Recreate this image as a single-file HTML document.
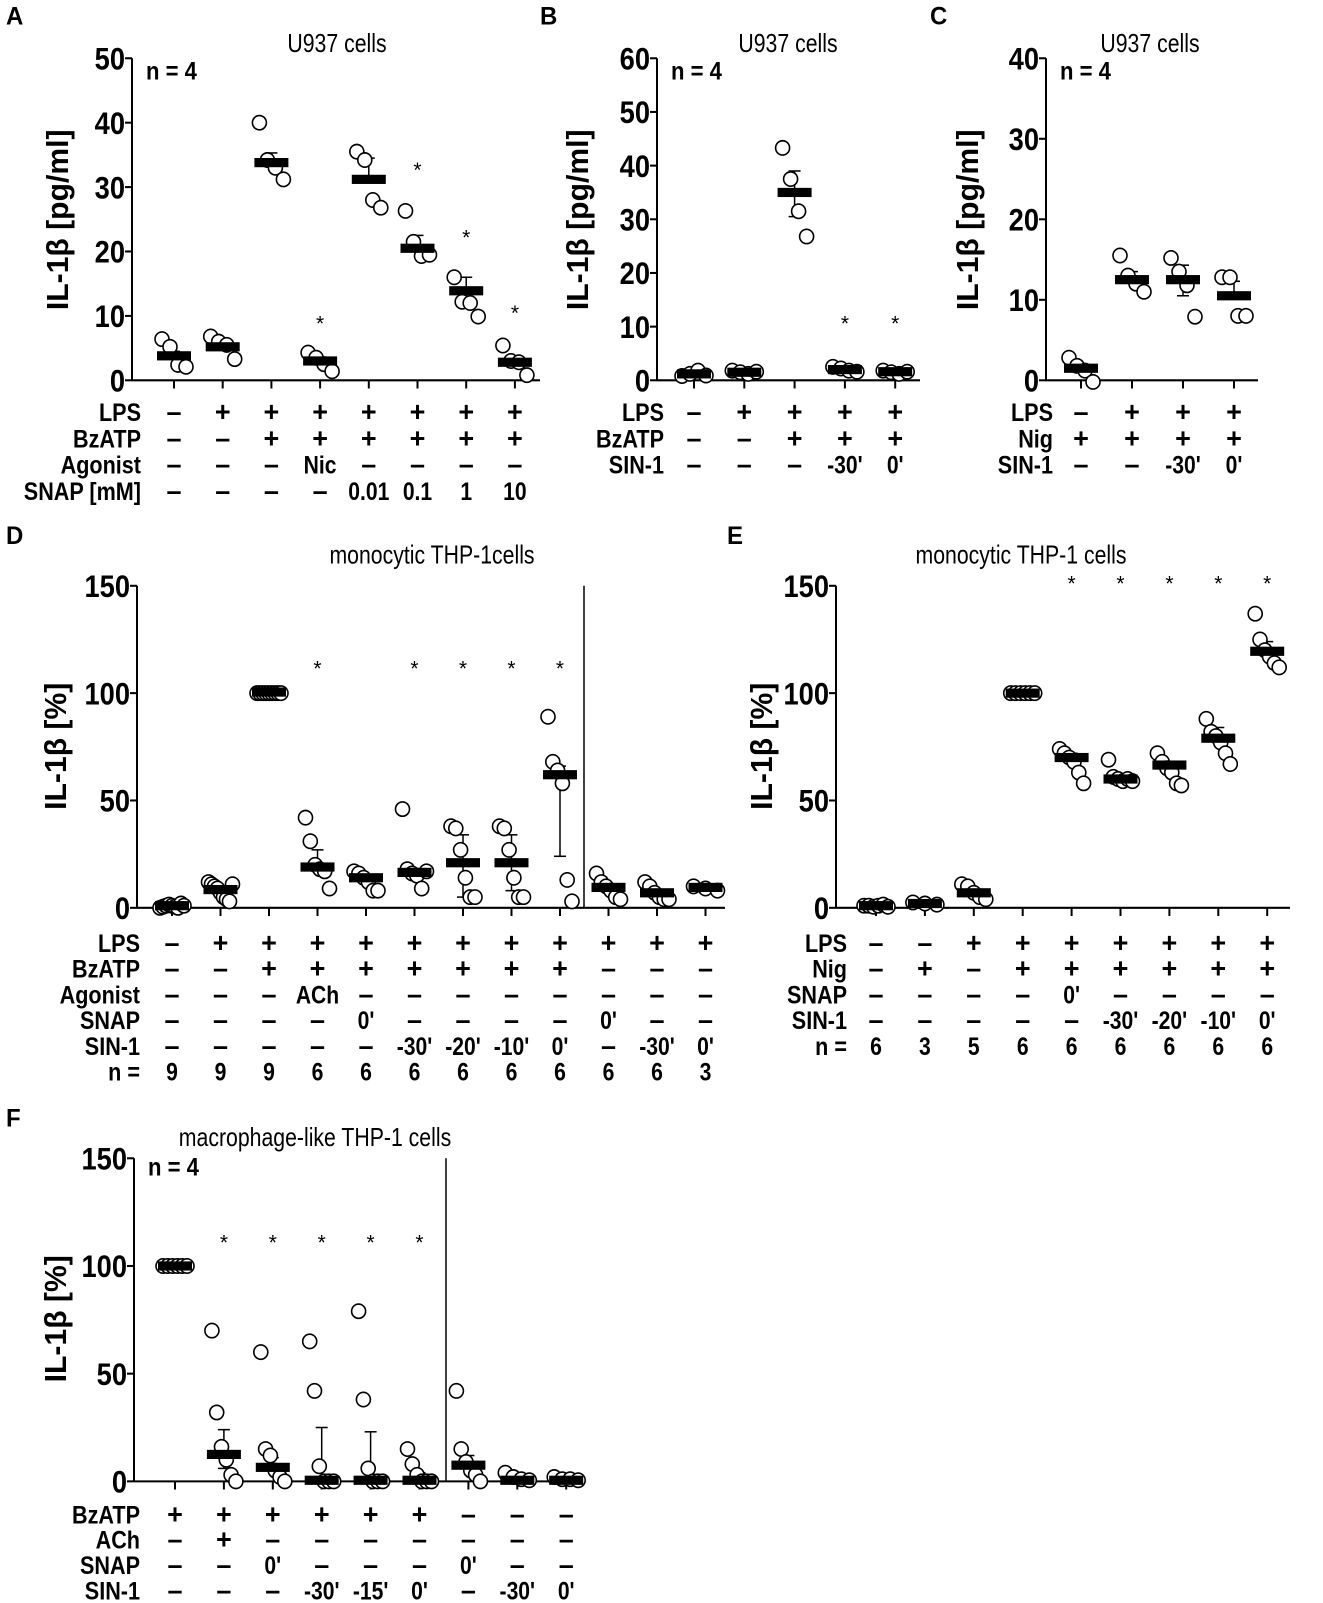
<!DOCTYPE html>
<html><head><meta charset="utf-8"><style>
html,body{margin:0;padding:0;background:#fff;}
svg{display:block;}
text{font-family:"Liberation Sans",Arial,sans-serif;fill:#000;}
</style></head><body>
<svg id="fig" xmlns="http://www.w3.org/2000/svg" width="1323" height="1603" viewBox="0 0 1323 1568" preserveAspectRatio="none"></svg>
<script>
// ---------- DATA ----------
// Panel A
const aMeans=[3.8,5.2,33.8,3.0,31.2,20.5,13.9,2.8];
const aErrHi=[4.5,6.0,35.3,3.6,34.5,22.5,16.0,3.3];
const aErrLo=[3.8,5.2,33.8,3.0,31.2,20.5,13.9,2.8];
const aPoints=[[6.4,5.2,2.4,2.1],[6.8,6.0,5.5,3.3],[40,34.2,33,31.2],[4.3,3.5,2.5,1.4],[35.5,34.2,28,26.8],[26.3,21.5,19.3,19.5],[16,12.2,12,9.9],[5.4,3.0,2.8,0.8]];
const aStars=[null,null,null,9.2,null,33,22.5,10.8];
const aTicks=[0,10,20,30,40,50];
const aRowLabels=["LPS","BzATP","Agonist","SNAP [mM]"];
const aRows=[["–","+","+","+","+","+","+","+"],["–","–","+","+","+","+","+","+"],["–","–","–","Nic","–","–","–","–"],["–","–","–","–","0.01","0.1","1","10"]];
// Panel B
const bMeans=[1.2,1.5,35,2.0,1.6];
const bErrHi=[1.5,1.8,39,2.3,1.9];
const bErrLo=[1.2,1.5,30.5,2.0,1.6];
const bPoints=[[0.8,1.2,1.8,0.9],[1.8,1.5,1.2,1.6],[43.3,37.5,31.5,26.8],[2.5,2.2,1.8,1.6],[1.8,1.5,1.2,1.6]];
const bStars=[null,null,null,11,11];
const bTicks=[0,10,20,30,40,50,60];
const bRowLabels=["LPS","BzATP","SIN-1"];
const bRows=[["–","+","+","+","+"],["–","–","+","+","+"],["–","–","–","-30'","0'"]];
// Panel C
const cMeans=[1.5,12.5,12.5,10.5];
const cErrHi=[2.0,13.5,14.3,12.3];
const cErrLo=[1.5,12.5,10.5,10.5];
const cPoints=[[2.8,1.8,1.2,-0.2],[15.5,13.0,12.0,11.0],[15.2,13.5,11.8,7.9],[12.8,12.8,8.0,8.0]];
const cStars=[null,null,null,null];
const cTicks=[0,10,20,30,40];
const cRowLabels=["LPS","Nig","SIN-1"];
const cRows=[["–","+","+","+"],["+","+","+","+"],["–","–","-30'","0'"]];
// Panel D
const dMeans=[1,8.5,100.5,19,14,16.5,21,21,62,9.5,7,9.5];
const dErrHi=[1.5,10,101,27,15,17,34,34,66,11,8,10];
const dErrLo=[1,8.5,100.5,19,11,16.5,5,8,24,9.5,7,9.5];
const dPoints=[[0,0.5,1,1.5,1,0.5,0,2,1],[12,11,10,9,7,5,4,3,11],[100,100,100,100,100,100,100,100,100],[42,31,20,18,17,9],[17,16,14,12,8,8],[46,18,16,15,9,17],[38,37,27,14,5,5],[38,37,27,14,5,5],[89,68,64,58,13,3],[16,12,10,8,5,4],[12,10,7,5,4,4],[10,9,8]];
const dStars=[null,null,null,112.5,null,112.5,112.5,112.5,112.5,null,null,null];
const dTicks=[0,50,100,150];
const dRowLabels=["LPS","BzATP","Agonist","SNAP","SIN-1","n ="];
const dRows=[["–","+","+","+","+","+","+","+","+","+","+","+"],["–","–","+","+","+","+","+","+","+","–","–","–"],["–","–","–","ACh","–","–","–","–","–","–","–","–"],["–","–","–","–","0'","–","–","–","–","0'","–","–"],["–","–","–","–","–","-30'","-20'","-10'","0'","–","-30'","0'"],["9","9","9","6","6","6","6","6","6","6","6","3"]];
// Panel E
const eMeans=[1,2,7,100,70,60,66.5,79,119.5];
const eErrHi=[1.3,2.5,8,100.5,72,61,68,84,124];
const eErrLo=[1,2,7,100,70,60,66.5,79,119.5];
const ePoints=[[1,1,0.5,1,1.5,0.5],[2.5,2,1.5],[11,10,7,5,4],[100,100,100,100,100,100],[74,72,70,68,63,58],[69,61,60,59,60,59],[72,68,65,63,58,57],[88,82,80,77,72,67],[137,125,120,117,114,112]];
const eStars=[null,null,null,null,152,152,152,152,152];
const eTicks=[0,50,100,150];
const eRowLabels=["LPS","Nig","SNAP","SIN-1","n ="];
const eRows=[["–","–","+","+","+","+","+","+","+"],["–","+","–","+","+","+","+","+","+"],["–","–","–","–","0'","–","–","–","–"],["–","–","–","–","–","-30'","-20'","-10'","0'"],["6","3","5","6","6","6","6","6","6"]];
// Panel F
const fMeans=[100,12.5,6.5,0.5,0.5,0.5,7.5,0.5,0.5];
const fErrHi=[100.5,24,11,25,23,4,12,1,1];
const fErrLo=[100,6,6.5,0.5,0.5,0.5,7.5,0.5,0.5];
const fPoints=[[100,100,100,100,100,100],[70,32,16,10,3,0],[60,15,12,5,2,0],[65,42,7,0,0,0],[79,38,6,0,0,0],[15,8,3,0,0,0],[42,15,9,5,3,0],[4,2,1,0.5],[2,1,1,0.5]];
const fStars=[null,112,112,112,112,112,null,null,null];
const fTicks=[0,50,100,150];
const fRowLabels=["BzATP","ACh","SNAP","SIN-1"];
const fRows=[["+","+","+","+","+","+","–","–","–"],["–","+","–","–","–","–","–","–","–"],["–","–","0'","–","–","–","0'","–","–"],["–","–","–","-30'","-15'","0'","–","-30'","0'"]];

// ---------- DRAWING ----------
const NS="http://www.w3.org/2000/svg";
const svg=document.getElementById('fig');
function el(tag,attrs,parent){const e=document.createElementNS(NS,tag);for(const k in attrs)e.setAttribute(k,attrs[k]);(parent||svg).appendChild(e);return e;}
function txt(parent,x,y,s,size,weight,anchor,sx){
  const t=el('text',{transform:`translate(${x},${y}) scale(${sx||0.82},1)`,'font-size':size,'font-weight':weight||'normal','text-anchor':anchor||'middle'},parent);
  t.textContent=s;return t;
}
function panel(cfg){
  const g=el('g',{});
  
  
  const ymax=cfg.ticks[cfg.ticks.length-1];
  const Y=v=>cfg.y0-(v/ymax)*(cfg.y0-cfg.yTop);
  const X=i=>cfg.xs0+i*cfg.dx;
  const L=txt(g,cfg.letter[0],cfg.letter[1],cfg.letter[2],24,'bold','start',1);
  
  
  const T=txt(g,cfg.titleX,cfg.titleY,cfg.title,25,'normal','middle',0.85);
  
  
  const ya=el('line',{x1:cfg.ax,y1:cfg.yTop,x2:cfg.ax,y2:cfg.y0,stroke:'#000','stroke-width':2},g);
  
  
  const xa=el('line',{x1:cfg.ax,y1:cfg.y0,x2:cfg.xEnd,y2:cfg.y0,stroke:'#000','stroke-width':2},g);
  
  
  cfg.ticks.forEach(t=>{
    el('line',{x1:cfg.ax-7,y1:Y(t),x2:cfg.ax,y2:Y(t),stroke:'#000','stroke-width':2},g);
    const tl=txt(g,cfg.ax-7,Y(t)+11,String(t),31,'bold','end',0.88);
    
    
  });
  const yt=el('text',{transform:`translate(${cfg.ytX},${cfg.ytY}) rotate(-90) scale(0.95,1)`,'font-size':31,'font-weight':'bold','text-anchor':'middle'},g);
  yt.textContent=cfg.ytitle;
  
  
  if(cfg.n){const nt=txt(g,cfg.n[0],cfg.n[1],'n = 4',24,'bold','start',0.92);
    
    }
  if(cfg.div!=null){const dv=el('line',{x1:cfg.div,y1:cfg.yTop,x2:cfg.div,y2:cfg.y0,stroke:'#000','stroke-width':1.5},g);
    
    }
  cfg.means.forEach((m,i)=>{
    const x=X(i);
    el('line',{x1:x,y1:cfg.y0,x2:x,y2:cfg.y0+8,stroke:'#000','stroke-width':2},g);
    const eb=el('g',{},g);
    
    
    el('line',{x1:x,y1:Y(cfg.errHi[i]),x2:x,y2:Y(cfg.errLo[i]),stroke:'#000','stroke-width':1.5},eb);
    el('line',{x1:x-6,y1:Y(cfg.errHi[i]),x2:x+6,y2:Y(cfg.errHi[i]),stroke:'#000','stroke-width':1.5},eb);
    el('line',{x1:x-6,y1:Y(cfg.errLo[i]),x2:x+6,y2:Y(cfg.errLo[i]),stroke:'#000','stroke-width':1.5},eb);
    const pts=cfg.points[i];
    pts.forEach((p,j)=>{
      const off=(j-(pts.length-1)/2)*(cfg.spread/Math.max(1,pts.length-1));
      const c=el('circle',{cx:x+off,cy:Y(p),r:7,fill:'#fff',stroke:'#000','stroke-width':1.6},g);
      
      
    });
    const b=el('rect',{x:x-17,y:Y(m)-4.5,width:34,height:9,fill:'#000'},g);
    
    
    if(cfg.stars[i]!=null){const s=txt(g,x,Y(cfg.stars[i])+9,'*',21,'normal','middle',1);
      
      }
  });
  cfg.rowLabels.forEach((lab,r)=>{
    const y=cfg.row0+r*cfg.rowDy;
    const rl=txt(g,cfg.rowLabelX,y,lab,24,'bold','end',0.9);
    
    
    cfg.rows[r].forEach((v,i)=>{
      const sym=(v==='+'||v==='–');
      const c=txt(g,X(i),y,v,sym?27:24,'bold','middle',sym?1:0.88);
      
      
    });
  });
}
panel({name:'panel-a',letter:[6,24,'A'],title:'U937 cells',titleX:337,titleY:51,ax:132,y0:372,yTop:57,xEnd:540,xs0:174,dx:48.7,
  ticks:aTicks,ytitle:'IL-1β [pg/ml]',ytX:68,ytY:215,n:[146,78],means:aMeans,errHi:aErrHi,errLo:aErrLo,points:aPoints,stars:aStars,spread:24,
  rowLabels:aRowLabels,rows:aRows,row0:412,rowDy:25.7,rowLabelX:141});
panel({name:'panel-b',letter:[540,24,'B'],title:'U937 cells',titleX:788,titleY:51,ax:657,y0:372,yTop:57,xEnd:920,xs0:694,dx:50.3,
  ticks:bTicks,ytitle:'IL-1β [pg/ml]',ytX:588,ytY:215,n:[671,78],means:bMeans,errHi:bErrHi,errLo:bErrLo,points:bPoints,stars:bStars,spread:24,
  rowLabels:bRowLabels,rows:bRows,row0:412,rowDy:25.7,rowLabelX:664});
panel({name:'panel-c',letter:[930,24,'C'],title:'U937 cells',titleX:1150,titleY:51,ax:1046,y0:372,yTop:57,xEnd:1258,xs0:1081,dx:51,
  ticks:cTicks,ytitle:'IL-1β [pg/ml]',ytX:978,ytY:215,n:[1060,78],means:cMeans,errHi:cErrHi,errLo:cErrLo,points:cPoints,stars:cStars,spread:24,
  rowLabels:cRowLabels,rows:cRows,row0:412,rowDy:25.7,rowLabelX:1053});
panel({name:'panel-d',letter:[6,532,'D'],title:'monocytic THP-1cells',titleX:432,titleY:551,ax:137,y0:888,yTop:573,xEnd:725,xs0:172,dx:48.5,
  ticks:dTicks,ytitle:'IL-1β [%]',ytX:66,ytY:730,n:null,div:584,means:dMeans,errHi:dErrHi,errLo:dErrLo,points:dPoints,stars:dStars,spread:24,
  rowLabels:dRowLabels,rows:dRows,row0:931,rowDy:25.2,rowLabelX:140});
panel({name:'panel-e',letter:[727,532,'E'],title:'monocytic THP-1 cells',titleX:1021,titleY:551,ax:836,y0:888,yTop:573,xEnd:1290,xs0:876,dx:48.9,
  ticks:eTicks,ytitle:'IL-1β [%]',ytX:772,ytY:730,n:null,means:eMeans,errHi:eErrHi,errLo:eErrLo,points:ePoints,stars:eStars,spread:24,
  rowLabels:eRowLabels,rows:eRows,row0:931,rowDy:25.2,rowLabelX:847});
panel({name:'panel-f',letter:[6,1102,'F'],title:'macrophage-like THP-1 cells',titleX:315,titleY:1121,ax:134,y0:1449,yTop:1133,xEnd:585,xs0:175,dx:48.9,
  ticks:fTicks,ytitle:'IL-1β [%]',ytX:66,ytY:1290,n:[148,1150],div:446,means:fMeans,errHi:fErrHi,errLo:fErrLo,points:fPoints,stars:fStars,spread:24,
  rowLabels:fRowLabels,rows:fRows,row0:1490,rowDy:24.8,rowLabelX:140});
</script>
</body></html>
